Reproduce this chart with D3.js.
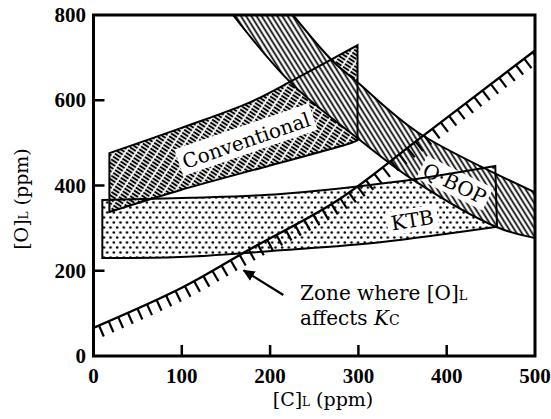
<!DOCTYPE html>
<html>
<head>
<meta charset="utf-8">
<script src="https://cdn.jsdelivr.net/npm/d3@7"></script>
<style>
  body { margin: 0; background: #fff; }
  text { font-family: "DejaVu Serif", serif; fill: #000; }
</style>
</head>
<body>
<svg id="chart"></svg>
<script>
// axis ticks
const xTicks = [0, 100, 200, 300, 400, 500];
const yTicks = [0, 200, 400, 600, 800];

// [C]L, [O]L pairs
const conventionalTop = [[18, 476], [98, 534], [177, 595], [226, 647], [268, 694], [299, 729]];
const conventionalBottom = [[18, 338], [98, 389], [200, 447], [291, 499], [299, 506]];
const ktbTop = [[10, 366], [110, 371], [212, 380], [340, 408], [455, 446]];
const ktbBottom = [[10, 230], [98, 232], [212, 248], [325, 267], [457, 303]];
const qbopUpper = [[226, 800], [270, 694], [299, 642], [367, 525], [500, 384]];
const qbopLower = [[158, 800], [223, 642], [302, 506], [362, 413], [457, 302], [500, 277]];
const zoneLine = [[0, 66], [100, 160], [175, 248], [277, 366], [371, 513], [500, 717]];

const width = 551, height = 419;
const svg = d3.select("#chart").attr("width", width).attr("height", height);

const x = d3.scaleLinear().domain([0, 500]).range([93.5, 535]);
const y = d3.scaleLinear().domain([0, 800]).range([356, 15]);

const defs = svg.append("defs");
defs.append("clipPath").attr("id", "plot")
  .append("rect").attr("x", x(0)).attr("y", y(800))
  .attr("width", x(500) - x(0)).attr("height", y(0) - y(800));

// dotted fill for KTB
const dots = defs.append("pattern").attr("id", "dots")
  .attr("patternUnits", "userSpaceOnUse").attr("width", 6.6).attr("height", 10);
dots.append("rect").attr("width", 6.6).attr("height", 10).attr("fill", "#fff");
dots.append("circle").attr("cx", 1.65).attr("cy", 2.5).attr("r", 1.3);
dots.append("circle").attr("cx", 4.95).attr("cy", 7.5).attr("r", 1.3);

// broken diagonal dashes for conventional
const dash = defs.append("pattern").attr("id", "dash")
  .attr("patternUnits", "userSpaceOnUse").attr("width", 9).attr("height", 3.4)
  .attr("patternTransform", "rotate(33)");
dash.append("rect").attr("width", 9).attr("height", 3.4).attr("fill", "#fff");
dash.append("line").attr("x1", 0).attr("x2", 7.2).attr("y1", 1.7).attr("y2", 1.7)
  .attr("stroke", "#000").attr("stroke-width", 2);

// steep hatch for Q-BOP
const hatch = defs.append("pattern").attr("id", "hatch")
  .attr("patternUnits", "userSpaceOnUse").attr("width", 4.4).attr("height", 10)
  .attr("patternTransform", "rotate(-32)");
hatch.append("rect").attr("width", 4.4).attr("height", 10).attr("fill", "#fff");
hatch.append("line").attr("x1", 2.2).attr("x2", 2.2).attr("y1", 0).attr("y2", 10)
  .attr("stroke", "#000").attr("stroke-width", 1.7);

const line = d3.line().x(d => x(d[0])).y(d => y(d[1])).curve(d3.curveCatmullRom);

function band(top, bottom) {
  const a = line(top);
  const b = line(bottom.slice().reverse());
  return a + "L" + b.slice(1) + "Z";
}

const plot = svg.append("g").attr("clip-path", "url(#plot)");

const ktbPath = band(ktbTop, ktbBottom);
const convPath = band(conventionalTop, conventionalBottom);
const qbopPath = band(qbopUpper, qbopLower);

plot.append("path").attr("d", ktbPath).attr("fill", "url(#dots)");
plot.append("path").attr("d", convPath).attr("fill", "url(#dash)");
plot.append("path").attr("d", qbopPath).attr("fill", "url(#hatch)");

// labels with white boxes
function boxLabel(txt, cx, cy, angle, pad) {
  const g = plot.append("g")
    .attr("transform", `translate(${x(cx)},${y(cy)}) rotate(${angle})`);
  const r = g.append("rect").attr("fill", "#fff");
  const t = g.append("text").attr("text-anchor", "middle").attr("dy", "0.36em")
    .attr("font-size", 20).text(txt);
  const bb = t.node().getBBox();
  r.attr("x", bb.x - pad[0]).attr("y", bb.y - pad[1])
    .attr("width", bb.width + 2 * pad[0]).attr("height", bb.height + pad[1] + pad[2]);
}
boxLabel("Conventional", 173, 506, -19, [4, 3, 1]);
boxLabel("Q\u00b7BOP", 409, 405, 26, [3, 1, 0]);
boxLabel("KTB", 361, 319, -9, [4, 0, 0]);

[ktbPath, convPath, qbopPath].forEach(p => {
  plot.append("path").attr("d", p).attr("fill", "none")
    .attr("stroke", "#000").attr("stroke-width", 2).attr("stroke-linejoin", "miter");
});

// zone where [O]L affects Kc: curve with ticks on its lower side
const zone = plot.append("path").attr("d", line(zoneLine)).attr("fill", "none")
  .attr("stroke", "#000").attr("stroke-width", 2.4);
const node = zone.node();
const total = node.getTotalLength();
for (let s = 6; s < total; s += 10.5) {
  const p0 = node.getPointAtLength(Math.max(0, s - 1));
  const p1 = node.getPointAtLength(Math.min(total, s + 1));
  const p = node.getPointAtLength(s);
  let dx = p1.x - p0.x, dy = p1.y - p0.y;
  const len = Math.hypot(dx, dy);
  dx /= len; dy /= len;
  plot.append("line")
    .attr("x1", p.x).attr("y1", p.y)
    .attr("x2", p.x - dy * 12).attr("y2", p.y + dx * 12)
    .attr("stroke", "#000").attr("stroke-width", 2.2);
}

// arrow and annotation
defs.append("marker").attr("id", "head").attr("viewBox", "0 0 10 10")
  .attr("refX", 9).attr("refY", 5).attr("markerWidth", 5.5).attr("markerHeight", 5.5)
  .attr("orient", "auto").attr("markerUnits", "strokeWidth")
  .append("path").attr("d", "M0,0.5L10,5L0,9.5Z").attr("fill", "#000");
svg.append("line")
  .attr("x1", x(215)).attr("y1", y(143)).attr("x2", x(170)).attr("y2", y(201))
  .attr("stroke", "#000").attr("stroke-width", 2.2).attr("marker-end", "url(#head)");

const note1 = svg.append("text").attr("x", x(234)).attr("y", y(131)).attr("font-size", 20);
note1.append("tspan").text("Zone where [O]");
note1.append("tspan").attr("font-size", 13).text("L");
const note2 = svg.append("text").attr("x", x(234)).attr("y", y(72)).attr("font-size", 20);
note2.append("tspan").text("affects ");
note2.append("tspan").attr("font-style", "italic").text("K");
note2.append("tspan").attr("font-size", 14).text("C");

// frame and inward ticks
svg.append("rect").attr("x", x(0)).attr("y", y(800))
  .attr("width", x(500) - x(0)).attr("height", y(0) - y(800))
  .attr("fill", "none").attr("stroke", "#000").attr("stroke-width", 3);

svg.selectAll(".xt").data(xTicks.filter(d => d > 0 && d < 500)).enter().append("line")
  .attr("x1", d => x(d)).attr("x2", d => x(d)).attr("y1", y(0)).attr("y2", y(0) - 11)
  .attr("stroke", "#000").attr("stroke-width", 2.5);
svg.selectAll(".yt").data(yTicks.filter(d => d > 0 && d < 800)).enter().append("line")
  .attr("x1", x(0)).attr("x2", x(0) + 11).attr("y1", d => y(d)).attr("y2", d => y(d))
  .attr("stroke", "#000").attr("stroke-width", 2.5);

svg.selectAll(".xl").data(xTicks).enter().append("text")
  .attr("x", d => x(d)).attr("y", 383).attr("text-anchor", "middle")
  .style("font-family", "'Liberation Serif', serif").attr("font-weight", "bold")
  .attr("font-size", 21).text(d => d);
svg.selectAll(".yl").data(yTicks).enter().append("text")
  .attr("x", 86).attr("y", d => y(d)).attr("dy", "0.34em").attr("text-anchor", "end")
  .style("font-family", "'Liberation Serif', serif").attr("font-weight", "bold")
  .attr("font-size", 21).text(d => d);

// axis titles
const xTitle = svg.append("text").attr("x", 323).attr("y", 406)
  .attr("text-anchor", "middle").attr("font-size", 19);
xTitle.append("tspan").text("[C]");
xTitle.append("tspan").attr("font-size", 12).text("L");
xTitle.append("tspan").text(" (ppm)");

const yTitle = svg.append("text")
  .attr("transform", "translate(28,199) rotate(-90)")
  .attr("text-anchor", "middle").attr("font-size", 19);
yTitle.append("tspan").text("[O]");
yTitle.append("tspan").attr("font-size", 12).text("L");
yTitle.append("tspan").text(" (ppm)");
</script>
</body>
</html>
